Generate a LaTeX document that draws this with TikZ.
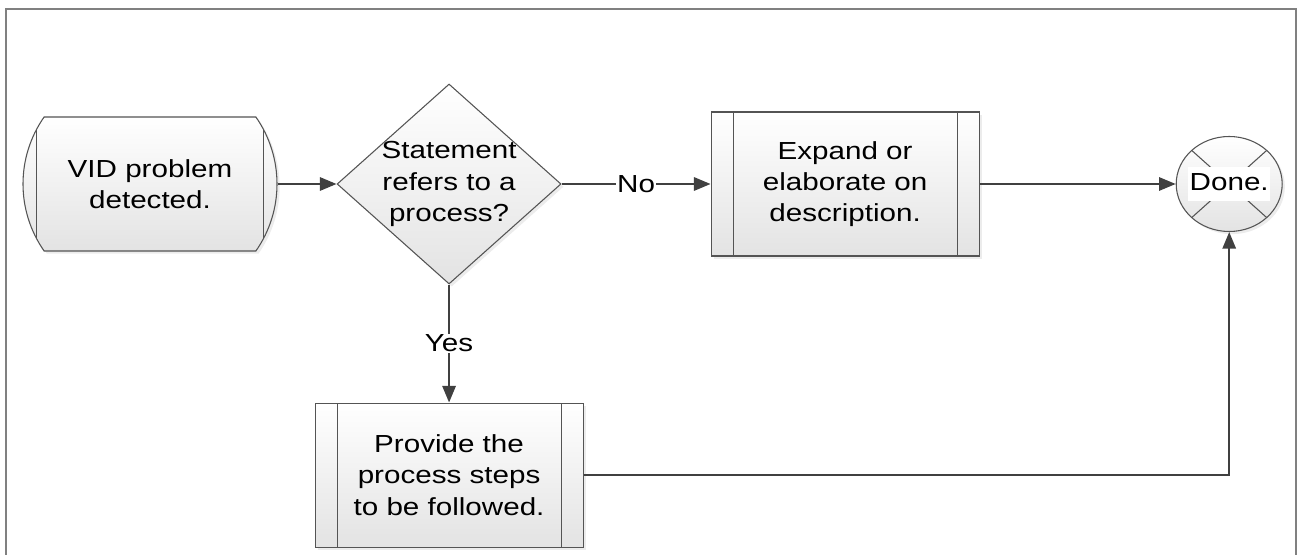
\documentclass[tikz,border=0pt]{standalone}
\usepackage{fontspec}
\setmainfont{Liberation Sans}[FakeStretch=1.2]
\usetikzlibrary{
  arrows.meta,
  positioning,
  shapes.geometric,
  shapes.misc,
  calc,
  shadows
}
\usepackage{xcolor}
\definecolor{lineGray}{rgb}{0.25,0.25,0.25}
\definecolor{edgeGray}{rgb}{0.33,0.33,0.33}
\definecolor{frameGray}{rgb}{0.5,0.5,0.5}
\definecolor{boxBottom}{rgb}{0.89,0.89,0.89}
\tikzset{
  flowbase/.style={
    draw=edgeGray,
    line width=0.8pt,
    top color=white,
    bottom color=boxBottom,
    drop shadow={shadow xshift=2pt,shadow yshift=-2pt,opacity=0.15}
  },
  terminal/.style={
    flowbase,
    rounded rectangle,
    rounded rectangle arc length=70,
    minimum width=190.5pt,
    minimum height=100.5pt,
    inner sep=0pt,
    path picture={
      \draw[edgeGray,line width=0.8pt]
        ($(path picture bounding box.north west)+(15.75pt,0)$) --
        ($(path picture bounding box.south west)+(15.75pt,0)$);
      \draw[edgeGray,line width=0.8pt]
        ($(path picture bounding box.north east)+(-15.75pt,0)$) --
        ($(path picture bounding box.south east)+(-15.75pt,0)$);
    }
  },
  decision/.style={
    flowbase,
    diamond,
    shape aspect=1.12,
    minimum width=168pt,
    minimum height=150pt,
    inner sep=-10pt
  },
  procbox/.style={
    flowbase,
    rectangle,
    minimum width=201pt,
    minimum height=108pt,
    inner sep=0pt,
    path picture={
      \draw[edgeGray,line width=0.8pt]
        ($(path picture bounding box.north west)+(16.5pt,0)$) --
        ($(path picture bounding box.south west)+(16.5pt,0)$);
      \draw[edgeGray,line width=0.8pt]
        ($(path picture bounding box.north east)+(-16.5pt,0)$) --
        ($(path picture bounding box.south east)+(-16.5pt,0)$);
    }
  },
  endstate/.style={
    flowbase,
    ellipse,
    minimum width=79.5pt,
    minimum height=71.25pt,
    inner sep=-8pt,
    path picture={
      \draw[edgeGray,line width=0.8pt]
        (path picture bounding box.north west) -- (path picture bounding box.south east);
      \draw[edgeGray,line width=0.8pt]
        (path picture bounding box.north east) -- (path picture bounding box.south west);
    }
  },
  flow/.style={draw=lineGray, line width=1.6pt, ->},
  edgelabel/.style={fill=white, inner sep=1pt}
}

\begin{document}
\begin{tikzpicture}[
    x=0.75pt, y=-0.75pt,
    >={Triangle[length=12.5pt,width=10pt]},
    every node/.style={
      font=\fontsize{18.5}{23.5}\selectfont,
      align=center,
      text=black
    }
  ]
  \useasboundingbox (0,0) rectangle (1299,555);
  \draw[frameGray, line width=1.4pt] (6,560) -- (6,9) -- (1296,9) -- (1296,560);

  \node[terminal] (detect) at (150,184) {VID problem\\detected.};
  \node[decision, right=44.25pt of detect] (refers) {Statement\\refers to a\\process?};
  \node[procbox, right=111.75pt of refers] (expand) {Expand or\\elaborate on\\description.};
  \node[endstate, right=147pt of expand] (done)
    {\setlength{\fboxsep}{1pt}\colorbox{white}{\strut Done.}};
  \node[procbox, below=88.5pt of refers] (steps) {Provide the\\process steps\\to be followed.};

  \draw[flow] (detect) -- (refers);
  \draw[flow] (refers) -- node[edgelabel] {No} (expand);
  \draw[flow] (refers) -- node[edgelabel] {Yes} (steps);
  \draw[flow] (expand) -- (done);
  \draw[flow] (steps) -| (done);
\end{tikzpicture}
\end{document}
